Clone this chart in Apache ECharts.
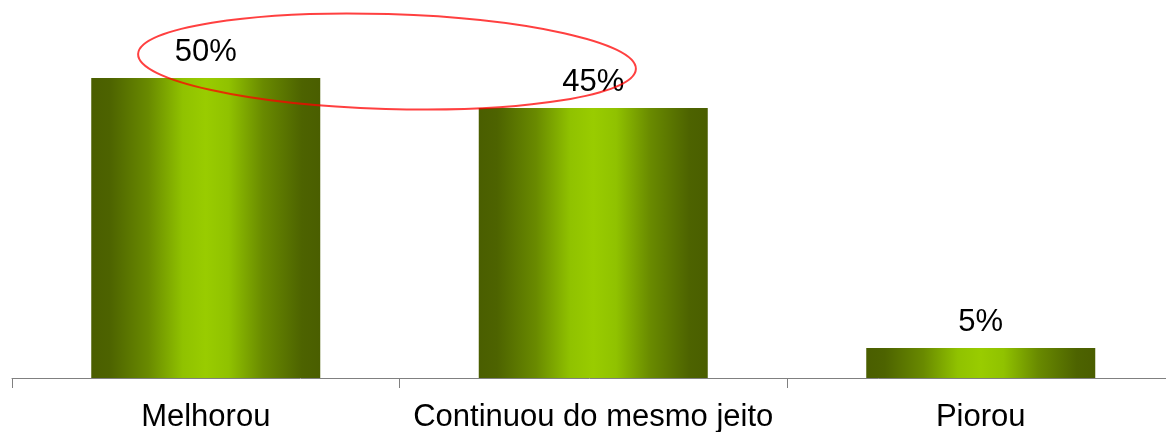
<!DOCTYPE html>
<html>
<head>
<meta charset="utf-8">
<script src="https://cdn.jsdelivr.net/npm/echarts@6/dist/echarts.min.js"></script>
<style>
html,body{margin:0;padding:0;background:#fff;}
#chart{width:1166px;height:432px;}
</style>
</head>
<body>
<div id="chart"></div>
<script>
var categories = ['Melhorou', 'Continuou do mesmo jeito', 'Piorou'];
var values = [50, 45, 5];

var chart = echarts.init(document.getElementById('chart'), null, {renderer: 'canvas'});

var barGradient = new echarts.graphic.LinearGradient(0, 0, 1, 0, [
  {offset: 0, color: '#4a5e00'},
  {offset: 0.08, color: '#4d6300'},
  {offset: 0.25, color: '#698a00'},
  {offset: 0.4, color: '#90c200'},
  {offset: 0.5, color: '#99cc00'},
  {offset: 0.6, color: '#90c200'},
  {offset: 0.75, color: '#698a00'},
  {offset: 0.92, color: '#4d6300'},
  {offset: 1, color: '#4a5e00'}
]);

var option = {
  animation: false,
  backgroundColor: '#ffffff',
  grid: {left: 12, width: 1162.5, top: 78, bottom: 54, containLabel: false, outerBoundsMode: 'none'},
  xAxis: {
    type: 'category',
    data: categories,
    boundaryGap: true,
    axisLine: {show: true, lineStyle: {color: '#808080', width: 1}},
    axisTick: {show: true, length: 10, alignWithLabel: false, lineStyle: {color: '#808080', width: 1}},
    axisLabel: {
      color: '#000',
      fontFamily: 'Liberation Sans, Arial, sans-serif',
      fontSize: 31,
      margin: 24,
      interval: 0
    },
    splitLine: {show: false}
  },
  yAxis: {
    type: 'value',
    min: 0,
    max: 50,
    show: false,
    splitLine: {show: false}
  },
  series: [{
    type: 'bar',
    data: values,
    barWidth: 229,
    itemStyle: {color: barGradient},
    label: {
      show: true,
      position: 'top',
      distance: 10,
      color: '#000',
      fontFamily: 'Liberation Sans, Arial, sans-serif',
      fontSize: 31,
      formatter: function (p) { return p.value + '%'; }
    }
  }],
  graphic: [{
    type: 'ellipse',
    x: 387,
    y: 61.5,
    rotation: -0.03,
    z: 100,
    shape: {cx: 0, cy: 0, rx: 249, ry: 47.5},
    style: {fill: 'none', stroke: 'rgba(255,0,0,0.75)', lineWidth: 2}
  }]
};

chart.setOption(option);
</script>
</body>
</html>
